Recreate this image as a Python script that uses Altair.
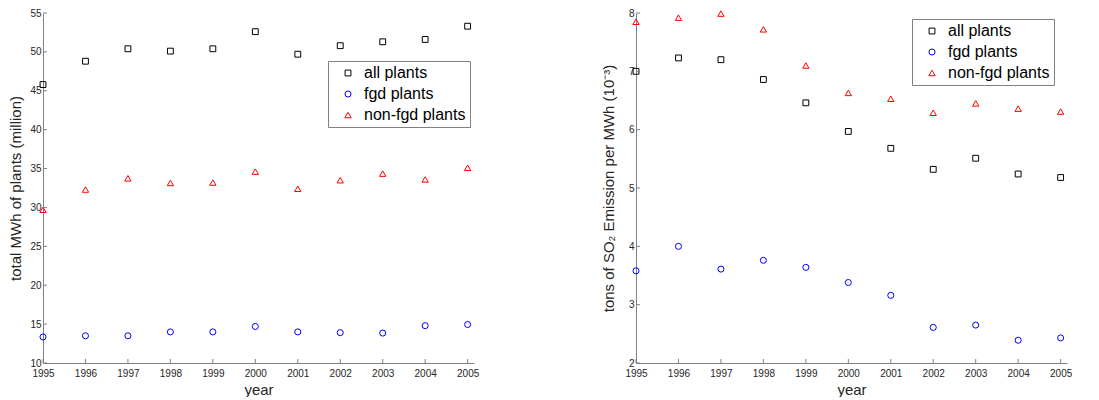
import altair as alt
import pandas as pd

years = list(range(1995, 2006))
series = ["all plants", "fgd plants", "non-fgd plants"]
colors = ["#000000", "#0000ff", "#ff0000"]
shapes = ["square", "circle", "triangle-up"]
marker_sizes = [34, 40, 46]

mwh_all = [45.8, 48.8, 50.4, 50.1, 50.4, 52.6, 49.7, 50.8, 51.3, 51.6, 53.3]
mwh_fgd = [13.35, 13.5, 13.5, 14.0, 14.0, 14.7, 14.0, 13.9, 13.85, 14.8, 14.95]
mwh_non = [29.7, 32.3, 33.75, 33.15, 33.2, 34.6, 32.4, 33.5, 34.35, 33.6, 35.1]

so2_all = [7.0, 7.23, 7.2, 6.86, 6.46, 5.97, 5.68, 5.32, 5.51, 5.24, 5.18]
so2_fgd = [3.58, 4.0, 3.61, 3.76, 3.64, 3.38, 3.16, 2.61, 2.65, 2.39, 2.43]
so2_non = [7.85, 7.92, 7.99, 7.72, 7.1, 6.63, 6.53, 6.29, 6.45, 6.36, 6.31]

left_yticks = [10, 15, 20, 25, 30, 35, 40, 45, 50, 55]
right_yticks = [2, 3, 4, 5, 6, 7, 8]

W, H = 431, 350
FONT = "Liberation Sans"
AXIS_COL = "#808080"
TXT_COL = "#262626"


def long_df(a, b, c):
    rows = []
    for name, vals in zip(series, [a, b, c]):
        for y, v in zip(years, vals):
            rows.append({"year": y, "value": v, "series": name})
    return pd.DataFrame(rows)


def panel(df, ydomain, yticks, ytitle, lx, ly, tpad):
    xscale = alt.Scale(domain=[1995, 2005.15], nice=False, zero=False)
    yscale = alt.Scale(domain=ydomain, nice=False, zero=False)
    xaxis = alt.Axis(values=years, format="d", labelFlush=False, ticks=False,
                     labelOverlap=False, grid=False, title="year",
                     labelPadding=5, titlePadding=4)
    yaxis = alt.Axis(values=yticks, format="d", ticks=False, grid=False,
                     labelOverlap=False, title=ytitle, labelPadding=2,
                     titlePadding=tpad)
    legend = alt.Legend(
        orient="none", legendX=lx, legendY=ly, title=None,
        strokeColor=AXIS_COL, fillColor="white", padding=4,
        labelFontSize=16, labelFont=FONT, labelColor="#000000",
        symbolSize=36, symbolStrokeWidth=1, rowPadding=5,
        labelOffset=8, symbolOffset=8, labelLimit=300,
    )
    pts = alt.Chart(df).mark_point(filled=False, strokeWidth=1, opacity=1).encode(
        x=alt.X("year:Q", scale=xscale, axis=xaxis),
        y=alt.Y("value:Q", scale=yscale, axis=yaxis),
        color=alt.Color("series:N", scale=alt.Scale(domain=series, range=colors), legend=legend),
        shape=alt.Shape("series:N", scale=alt.Scale(domain=series, range=shapes), legend=legend),
        size=alt.Size("series:N", scale=alt.Scale(domain=series, range=marker_sizes), legend=None),
    )
    xt = alt.Chart(pd.DataFrame({"year": years})).mark_rule(color=AXIS_COL, strokeWidth=1).encode(
        x=alt.X("year:Q", scale=xscale, axis=xaxis), y=alt.value(H), y2=alt.value(H - 4))
    yt = alt.Chart(pd.DataFrame({"value": yticks})).mark_rule(color=AXIS_COL, strokeWidth=1).encode(
        y=alt.Y("value:Q", scale=yscale, axis=yaxis), x=alt.value(0), x2=alt.value(4))
    return alt.layer(pts, xt, yt).properties(width=W, height=H)


left = panel(long_df(mwh_all, mwh_fgd, mwh_non), [10, 55], left_yticks,
             "total MWh of plants (million)", 285, 48, 6)
right = panel(long_df(so2_all, so2_fgd, so2_non), [2, 8], right_yticks,
              "tons of SO\u2082 Emission per MWh (10\u207b\u00b3)", 276, 6, 12)

chart = alt.hconcat(left, right, spacing=122).resolve_legend(
    color="independent", shape="independent", size="independent"
).resolve_scale(color="independent", shape="independent", size="independent").properties(
    padding={"left": 0, "top": 0, "right": 0, "bottom": 0}
).configure_view(stroke=None).configure_axis(
    domainColor=AXIS_COL, domainWidth=1, labelColor=TXT_COL, titleColor=TXT_COL,
    labelFont=FONT, titleFont=FONT, labelFontSize=10, titleFontSize=15,
    titleFontWeight="normal",
)

chart.save("out.html", embed_options={"renderer": "svg", "actions": False})
